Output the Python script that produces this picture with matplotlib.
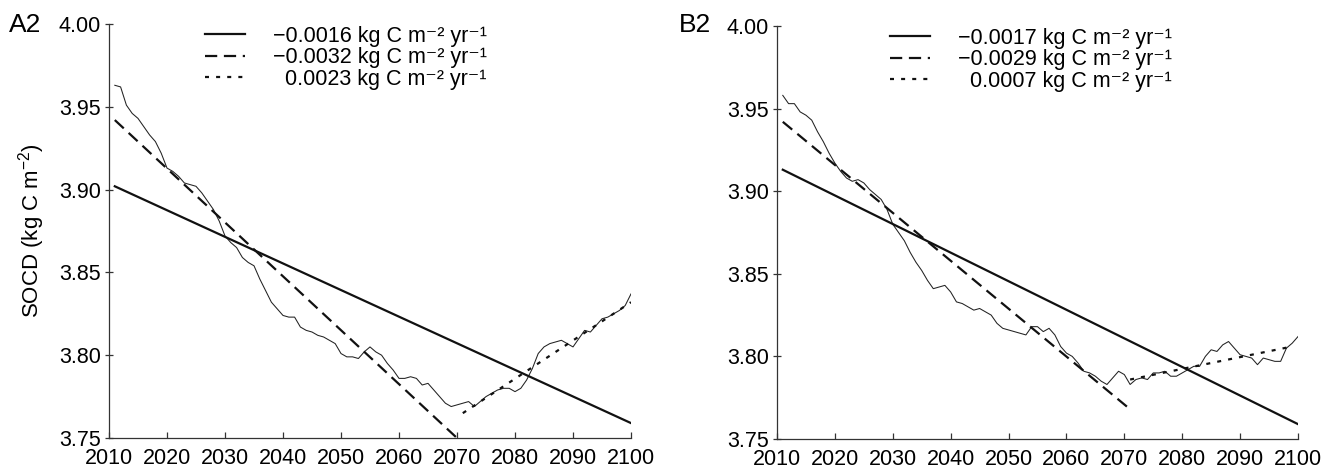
import numpy as np
import matplotlib
matplotlib.use('Agg')
import matplotlib.pyplot as plt

plt.rcParams['font.family'] = ['Liberation Sans', 'DejaVu Sans']
plt.rcParams['mathtext.fontset'] = 'custom'
plt.rcParams['mathtext.rm'] = 'Liberation Sans'
plt.rcParams['mathtext.it'] = 'Liberation Sans:italic'
plt.rcParams['mathtext.bf'] = 'Liberation Sans:bold'

years = list(range(2011, 2101))

socd_a2 = [3.963, 3.962, 3.951, 3.946, 3.943, 3.938, 3.933, 3.929, 3.922, 3.913,
           3.911, 3.908, 3.904, 3.903, 3.902, 3.898, 3.893, 3.888, 3.881, 3.872,
           3.868, 3.865, 3.859, 3.856, 3.854, 3.846, 3.839, 3.832, 3.828, 3.824,
           3.823, 3.823, 3.817, 3.815, 3.814, 3.812, 3.811, 3.809, 3.807, 3.801,
           3.799, 3.799, 3.798, 3.802, 3.805, 3.802, 3.800, 3.795, 3.791, 3.786,
           3.786, 3.787, 3.786, 3.782, 3.783, 3.779, 3.775, 3.771, 3.769, 3.770,
           3.771, 3.772, 3.769, 3.772, 3.775, 3.777, 3.779, 3.780, 3.780, 3.778,
           3.780, 3.785, 3.792, 3.801, 3.805, 3.807, 3.808, 3.809, 3.807, 3.805,
           3.810, 3.815, 3.814, 3.818, 3.822, 3.823, 3.825, 3.827, 3.830, 3.837]

socd_b2 = [3.958, 3.953, 3.953, 3.948, 3.946, 3.943, 3.936, 3.930, 3.923, 3.917,
           3.912, 3.908, 3.906, 3.907, 3.905, 3.901, 3.898, 3.895, 3.889, 3.880,
           3.875, 3.870, 3.863, 3.857, 3.852, 3.846, 3.841, 3.842, 3.843, 3.839,
           3.833, 3.832, 3.830, 3.828, 3.829, 3.827, 3.825, 3.820, 3.817, 3.816,
           3.815, 3.814, 3.813, 3.818, 3.818, 3.815, 3.817, 3.813, 3.806, 3.802,
           3.800, 3.796, 3.791, 3.790, 3.788, 3.785, 3.783, 3.787, 3.791, 3.789,
           3.783, 3.786, 3.787, 3.786, 3.790, 3.790, 3.791, 3.788, 3.788, 3.790,
           3.792, 3.794, 3.794, 3.800, 3.804, 3.803, 3.807, 3.809, 3.805, 3.801,
           3.800, 3.799, 3.795, 3.799, 3.798, 3.797, 3.797, 3.805, 3.808, 3.812]

# trend lines: whole period, first period, second period (end points)
trend_a2_x = [[2011, 2100], [2011, 2070], [2071, 2100]]
trend_a2_y = [[3.902, 3.759], [3.942, 3.750], [3.765, 3.832]]
trend_b2_x = [[2011, 2100], [2011, 2071], [2071, 2099]]
trend_b2_y = [[3.913, 3.759], [3.942, 3.768], [3.786, 3.806]]

slopes_a2 = ['\u22120.0016', '\u22120.0032', '\u20070.0023']
slopes_b2 = ['\u22120.0017', '\u22120.0029', '\u20070.0007']

xticks = list(range(2010, 2101, 10))
yticks = [3.75, 3.80, 3.85, 3.90, 3.95, 4.00]

styles = [dict(linestyle='-'),
          dict(linestyle=(0, (5.5, 3.0))),
          dict(linestyle=(0, (1.8, 3.2)))]

TICK_FS = 15.5
LEG_FS = 15.5


def draw_panel(ax, series, tx, ty, slopes, leg_x):
    ax.plot(years, series, color='#222222', lw=0.75)
    handles = []
    for i in range(3):
        h, = ax.plot(tx[i], ty[i], color='#111111', lw=1.6, **styles[i])
        handles.append(h)
    labels = [s + ' kg C m\u207b\u00b2 yr\u207b\u00b9' for s in slopes]
    ax.legend(handles, labels, loc='upper left', bbox_to_anchor=(leg_x, 0.996),
              frameon=False, fontsize=LEG_FS, borderpad=0, borderaxespad=0,
              handlelength=1.85, handletextpad=1.3, labelspacing=0.02)

    ax.set_xlim(2010, 2100)
    ax.set_ylim(3.75, 4.00)
    ax.set_xticks(xticks)
    ax.set_yticks(yticks)
    ax.set_yticklabels(['%.2f' % v for v in yticks])
    ax.spines['top'].set_visible(False)
    ax.spines['right'].set_visible(False)
    for s in ['left', 'bottom']:
        ax.spines[s].set_linewidth(0.9)
        ax.spines[s].set_color('#333333')
    ax.tick_params(axis='x', direction='in', length=4, width=0.9, pad=7.5,
                   labelsize=TICK_FS, color='#333333')
    ax.tick_params(axis='y', direction='inout', length=6, width=0.9, pad=3,
                   labelsize=TICK_FS, color='#333333')


fig = plt.figure(figsize=(13.33, 4.73), dpi=100)
ax1 = fig.add_axes([109 / 1333, 35 / 473, 522 / 1333, 414 / 473])
ax2 = fig.add_axes([777 / 1333, 34 / 473, 521 / 1333, 413 / 473])

draw_panel(ax1, socd_a2, trend_a2_x, trend_a2_y, slopes_a2, 0.184)
draw_panel(ax2, socd_b2, trend_b2_x, trend_b2_y, slopes_b2, 0.217)

ax1.set_ylabel('SOCD (kg C m$^{\u22122}$)', fontsize=16, labelpad=8)

fig.text(9 / 1333, 1 - 32 / 473, 'A2', fontsize=19, va='baseline', ha='left')
fig.text(679 / 1333, 1 - 32 / 473, 'B2', fontsize=19, va='baseline', ha='left')

fig.savefig('out.png', dpi=100)
